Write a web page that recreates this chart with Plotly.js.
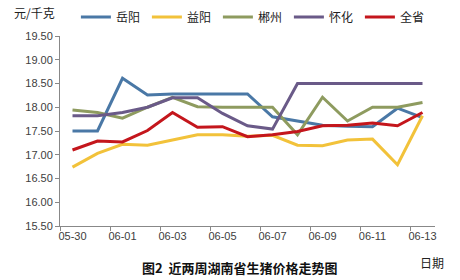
<!DOCTYPE html>
<html>
<head>
<meta charset="utf-8">
<script src="https://cdn.plot.ly/plotly-3.0.1.min.js"></script>
<style>html,body{margin:0;padding:0;background:#fff;}#chart{width:460px;height:280px;}</style>
</head>
<body>
<div id="chart"></div>
<script>
const dates = ["05-30","05-31","06-01","06-02","06-03","06-04","06-05","06-06","06-07","06-08","06-09","06-10","06-11","06-12","06-13"];
const yueyang = [17.50,17.50,18.61,18.26,18.28,18.28,18.28,18.28,17.80,17.71,17.62,17.60,17.59,17.98,17.78];
const yiyang  = [16.74,17.03,17.22,17.20,17.31,17.42,17.42,17.39,17.41,17.20,17.19,17.31,17.33,16.79,17.82];
const chenzhou= [17.94,17.89,17.77,18.00,18.21,18.01,18.00,18.00,18.00,17.42,18.21,17.71,18.00,18.00,18.10];
const huaihua = [17.82,17.82,17.89,18.00,18.20,18.20,17.87,17.61,17.54,18.50,18.50,18.50,18.50,18.50,18.50];
const quansheng=[17.10,17.29,17.27,17.51,17.89,17.58,17.59,17.38,17.42,17.49,17.61,17.62,17.67,17.61,17.89];
const names = ["岳阳","益阳","郴州","怀化","全省"];
const colors = ["#4A78A6","#F2C23A","#8E9B5F","#6A5A88","#C4161C"];
const series = [yueyang, yiyang, chenzhou, huaihua, quansheng];

const traces = series.map((s,i)=>({
  x: dates, y: s, name: names[i], type: "scatter", mode: "lines",
  line: {color: colors[i], width: 3}
}));

const font = {family: "Liberation Sans, Arial, sans-serif", size: 11, color: "#404040"};
const cjk = {family: "Noto Sans CJK SC, sans-serif", size: 12, color: "#222"};
const layout = {
  width: 460, height: 280,
  margin: {l: 60, r: 25, t: 36, b: 54},
  paper_bgcolor: "#fff", plot_bgcolor: "#fff",
  font: font,
  showlegend: true,
  legend: {orientation: "h", xref: "container", yref: "container", x: 0.165, xanchor: "left",
           y: 0.939, yanchor: "middle", font: cjk,
           entrywidth: 26, entrywidthmode: "pixels", itemwidth: 30, tracegroupgap: 0},
  xaxis: {type: "category", range: [-0.5, 14.5], dtick: 2, tickson: "boundaries", tickangle: 0,
          automargin: false,
          ticks: "outside", ticklen: 4, tickcolor: "#888", showline: true, linecolor: "#888",
          linewidth: 1, showgrid: false, zeroline: false, tickfont: font},
  yaxis: {range: [15.5, 19.5], dtick: 0.5, tickformat: ".2f", ticks: "outside", ticklen: 4,
          automargin: false,
          tickcolor: "#888", showline: true, linecolor: "#888", linewidth: 1,
          showgrid: false, zeroline: false, tickfont: font},
  annotations: [
    {text: "元/千克", xref: "paper", yref: "paper", x: -0.067, y: 1.125, xanchor: "center", yanchor: "middle",
     showarrow: false, font: cjk},
    {text: "日期", xref: "paper", yref: "paper", x: 0.992, y: -0.19, xanchor: "center", yanchor: "middle",
     showarrow: false, font: cjk},
    {text: "<b>图2  近两周湖南省生猪价格走势图</b>", xref: "paper", yref: "paper", x: 0.48, y: -0.216,
     xanchor: "center", yanchor: "middle",
     showarrow: false, font: {family: "Noto Sans CJK SC, sans-serif", size: 13, color: "#111"}}
  ]
};
Plotly.newPlot("chart", traces, layout, {displayModeBar: false, staticPlot: true});
</script>
</body>
</html>
